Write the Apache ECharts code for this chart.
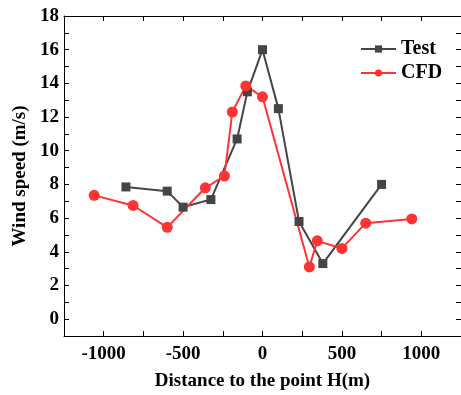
<!DOCTYPE html>
<html>
<head>
<meta charset="utf-8">
<script src="https://cdn.jsdelivr.net/npm/echarts@6/dist/echarts.min.js"></script>
<style>
  html, body { margin: 0; padding: 0; background: #fff; }
  #chart { width: 461px; height: 395px; }
</style>
</head>
<body>
<div id="chart"></div>
<script>
// values
const testX = [-860, -600, -500, -325, -160, -95, 0, 100, 230, 380, 750]
const testY = [7.85, 7.6, 6.65, 7.1, 10.7, 13.5, 16.0, 12.5, 5.8, 3.3, 8.0]
const cfdX = [-1060, -815, -600, -360, -240, -190, -105, 0, 295, 345, 500, 650, 940]
const cfdY = [7.35, 6.75, 5.45, 7.8, 8.5, 12.3, 13.85, 13.2, 3.1, 4.65, 4.2, 5.7, 5.95]
const xLabels = ['-1000', '-500', '0', '500', '1000']
const yLabels = ['0', '2', '4', '6', '8', '10', '12', '14', '16', '18']

const font = 'Liberation Serif'
const clear = 'rgba(0,0,0,0)'
const box = { left: 64, right: 0, top: 16, bottom: 59, outerBoundsMode: 'none' }

// main axes: frame line, labels, names
function xAxisOf(pos, withLabels) {
  return {
    gridIndex: 0,
    type: 'value',
    position: pos,
    min: -1250,
    max: 1250,
    interval: 250,
    axisLine: { show: true, onZero: false, lineStyle: { color: '#000' } },
    splitLine: { show: false },
    axisTick: { show: true, inside: true, length: 5, lineStyle: { color: '#000' } },
    axisLabel: withLabels ? {
      formatter: v => (xLabels.includes(String(v)) ? String(v) : ''),
      margin: 9,
      color: '#000',
      fontFamily: font,
      fontWeight: 'bold',
      fontSize: 19
    } : { show: false }
  }
}

function yAxisOf(pos, withLabels) {
  return {
    gridIndex: 0,
    type: 'value',
    position: pos,
    min: -1,
    max: 18,
    interval: 1,
    axisLine: { show: true, onZero: false, lineStyle: { color: '#000' } },
    splitLine: { show: false },
    axisTick: { show: true, inside: true, length: 5, lineStyle: { color: '#000' } },
    axisLabel: withLabels ? {
      formatter: v => (yLabels.includes(String(v)) ? String(v) : ''),
      margin: 5,
      color: '#000',
      fontFamily: font,
      fontWeight: 'bold',
      fontSize: 19
    } : { show: false }
  }
}

// tick-only axes on an identical second grid, kept close to plain defaults
function xTicksOf(pos) {
  return {
    gridIndex: 1,
    type: 'value',
    position: pos,
    min: -1250,
    max: 1250,
    interval: 250,
    axisLine: { show: false, onZero: false },
    splitLine: { show: false },
    axisTick: { show: true, inside: true, length: 5, lineStyle: { color: '#000' } },
    axisLabel: { color: clear }
  }
}

function yTicksOf(pos) {
  return {
    gridIndex: 1,
    type: 'value',
    position: pos,
    min: -1,
    max: 18,
    interval: 1,
    axisLine: { show: false, onZero: false },
    splitLine: { show: false },
    axisTick: { show: true, inside: true, length: 5, lineStyle: { color: '#000' } },
    axisLabel: { color: clear }
  }
}

const chart = echarts.init(document.getElementById('chart'))

const xMain = xAxisOf('bottom', true)
xMain.name = 'Distance to the point H(m)'
xMain.nameLocation = 'middle'
xMain.nameGap = 36
xMain.nameTextStyle = { color: '#000', fontFamily: font, fontWeight: 'bold', fontSize: 19 }

const yMain = yAxisOf('left', true)
yMain.name = 'Wind speed (m/s)'
yMain.nameLocation = 'middle'
yMain.nameGap = 31
yMain.nameTextStyle = { color: '#000', fontFamily: font, fontWeight: 'bold', fontSize: 19 }

chart.setOption({
  animation: false,
  grid: [box, Object.assign({}, box)],
  legend: {
    orient: 'vertical',
    left: 355,
    top: 34,
    itemWidth: 35,
    itemHeight: 9,
    itemGap: 4,
    textStyle: { color: '#000', fontFamily: font, fontWeight: 'bold', fontSize: 20 },
    data: ['Test', 'CFD']
  },
  xAxis: [xMain, xAxisOf('top', false), xTicksOf('bottom'), xTicksOf('top')],
  yAxis: [yMain, yAxisOf('right', false), yTicksOf('left'), yTicksOf('right')],
  series: [
    {
      name: 'Test',
      type: 'line',
      xAxisIndex: 0,
      yAxisIndex: 0,
      symbol: 'rect',
      symbolSize: 9,
      color: '#454545',
      lineStyle: { width: 2 },
      itemStyle: { color: '#454545' },
      data: testX.map((x, i) => [x, testY[i]])
    },
    {
      name: 'CFD',
      type: 'line',
      xAxisIndex: 0,
      yAxisIndex: 0,
      symbol: 'circle',
      symbolSize: 11,
      color: '#ff3333',
      lineStyle: { width: 2 },
      itemStyle: { color: '#ff3333' },
      data: cfdX.map((x, i) => [x, cfdY[i]])
    }
  ]
})
</script>
</body>
</html>
